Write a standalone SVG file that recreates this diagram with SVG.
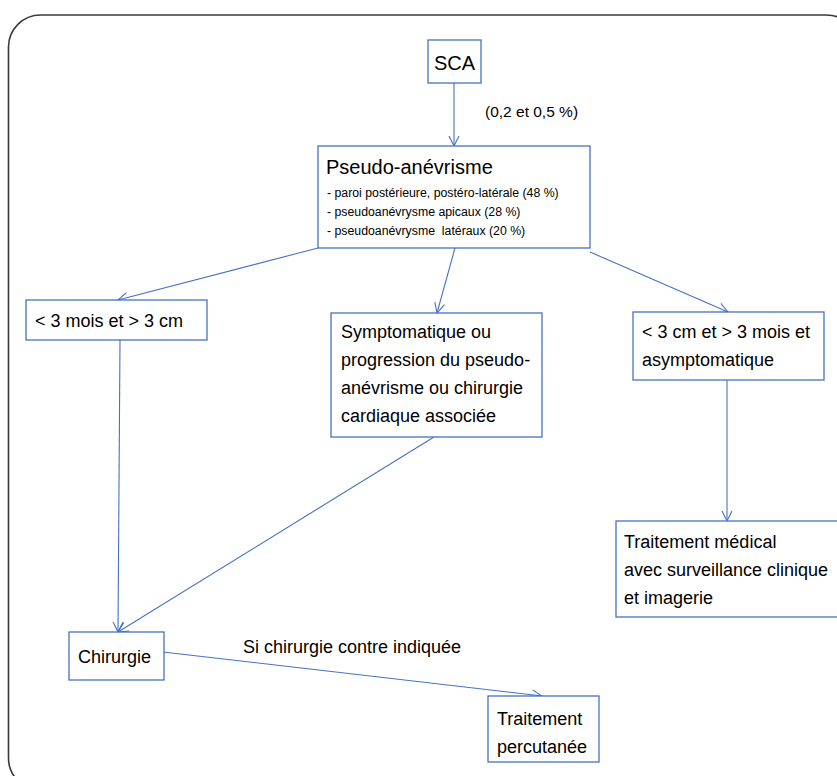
<svg xmlns="http://www.w3.org/2000/svg" width="837" height="776" viewBox="0 0 837 776">
<style>
.box{fill:#fff;stroke:#4472c4;stroke-width:1.3}
.t{font-family:"Liberation Sans",Arial,sans-serif;font-size:18px;fill:#000}
.s{font-family:"Liberation Sans",Arial,sans-serif;font-size:12.3px;fill:#000;white-space:pre}
.c{fill:none;stroke:#4472c4;stroke-width:1.1;marker-end:url(#ah)}
</style>
<defs>
<marker id="ah" viewBox="0 0 12 12" refX="11" refY="6" markerWidth="12" markerHeight="12" markerUnits="userSpaceOnUse" orient="auto">
<path d="M1,1 L11,6 L1,11" fill="none" stroke="#4472c4" stroke-width="1.1"/>
</marker>
</defs>
<rect x="0" y="0" width="837" height="776" fill="#fff"/>
<rect x="8.5" y="15" width="850" height="775" rx="32" ry="32" fill="none" stroke="#3a3a3a" stroke-width="1.6"/>
<g id="connectors">
<line class="c" x1="454" y1="83" x2="454" y2="146"/>
<line class="c" x1="318" y1="248" x2="118" y2="300"/>
<line class="c" x1="455" y1="248" x2="437" y2="313"/>
<line class="c" x1="590" y1="252" x2="728" y2="312"/>
<line class="c" x1="727" y1="380" x2="727" y2="521"/>
<line class="c" x1="120" y1="340" x2="118" y2="632"/>
<line class="c" x1="434" y1="437" x2="118" y2="632"/>
<line class="c" x1="163" y1="652" x2="542" y2="696"/>
<text class="t" x="485" y="117" style="font-size:15.5px">(0,2 et 0,5 %)</text>
<text class="t" x="243" y="653">Si chirurgie contre indiquée</text>
</g>
<g id="sca">
<rect class="box" x="428" y="40" width="53" height="43"/>
<text class="t" x="454.5" y="70" text-anchor="middle" style="font-size:20px">SCA</text>
</g>
<g id="pseudo">
<rect class="box" x="318" y="146" width="272" height="102"/>
<text class="t" x="326" y="174" style="font-size:20px">Pseudo-anévrisme</text>
<text class="s" x="327" y="197">- paroi postérieure, postéro-latérale (48 %)</text>
<text class="s" x="327" y="216">- pseudoanévrysme apicaux (28 %)</text>
<text class="s" x="327" y="235">- pseudoanévrysme  latéraux (20 %)</text>
</g>
<g id="lt3mois">
<rect class="box" x="26" y="300" width="181" height="40"/>
<text class="t" x="35" y="327">&lt; 3 mois et &gt; 3 cm</text>
</g>
<g id="symptomatique">
<rect class="box" x="331" y="313" width="211" height="124"/>
<text class="t" x="341" y="338">Symptomatique ou</text>
<text class="t" x="341" y="366">progression du pseudo-</text>
<text class="t" x="341" y="394">anévrisme ou chirurgie</text>
<text class="t" x="341" y="422">cardiaque associée</text>
</g>
<g id="lt3cm">
<rect class="box" x="633" y="312" width="191" height="68"/>
<text class="t" x="642" y="338">&lt; 3 cm et &gt; 3 mois et</text>
<text class="t" x="642" y="366">asymptomatique</text>
</g>
<g id="medical">
<rect class="box" x="616" y="521" width="230" height="96"/>
<text class="t" x="624" y="548">Traitement médical</text>
<text class="t" x="624" y="576">avec surveillance clinique</text>
<text class="t" x="624" y="604">et imagerie</text>
</g>
<g id="chirurgie">
<rect class="box" x="69" y="632" width="95" height="48"/>
<text class="t" x="78" y="663">Chirurgie</text>
</g>
<g id="percutanee">
<rect class="box" x="488" y="696" width="111" height="66"/>
<text class="t" x="497" y="725">Traitement</text>
<text class="t" x="497" y="753">percutanée</text>
</g>
</svg>
